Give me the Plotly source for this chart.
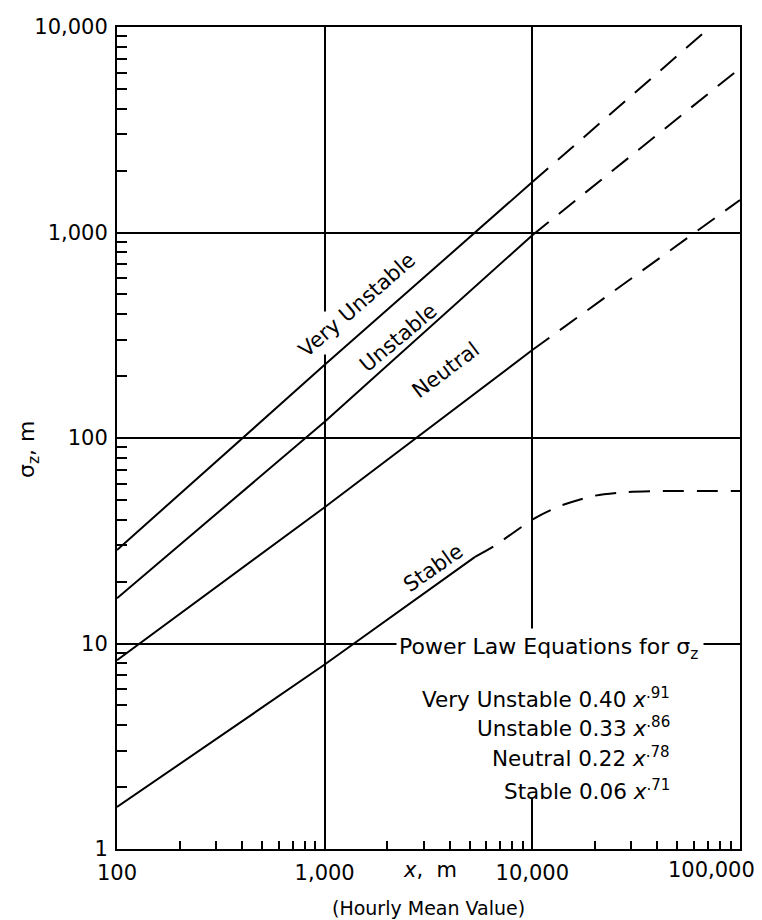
import plotly.graph_objects as go

# ---------------- data ----------------
vu_x_solid = [100, 1000, 10000]
vu_y_solid = [28.5, 227, 1760]
vu_x_dash = [10000, 72000]
vu_y_dash = [1760, 10000]

un_x_solid = [100, 1000, 10000]
un_y_solid = [16.6, 120, 970]
un_x_dash = [10000, 100000]
un_y_dash = [970, 6300]

ne_x_solid = [100, 1000, 10000]
ne_y_solid = [8.3, 46, 268]
ne_x_dash = [10000, 100000]
ne_y_dash = [268, 1440]

st_x_solid = [100, 1000, 5300]
st_y_solid = [1.6, 7.9, 26.4]
st_x_dash = [5300, 6450, 10300, 13600, 19600, 28500, 41100, 100000]
st_y_dash = [26.4, 29.5, 40.8, 46.7, 52.2, 54.6, 55.2, 55.2]

x_tickvals = [100, 1000, 10000, 100000]
x_ticktext = ["100", "1,000", "10,000", "100,000"]
y_tickvals = [1, 10, 100, 1000, 10000]
y_ticktext = ["1", "10", "100", "1,000", "10,000"]

curve_labels = ["Very Unstable", "Unstable", "Neutral", "Stable"]
eq_names = ["Very Unstable", "Unstable", "Neutral", "Stable"]
eq_coefs = ["0.40", "0.33", "0.22", "0.06"]
eq_exps = [".91", ".86", ".78", ".71"]

# ---------------- layout geometry (page pixels) ----------------
W, H = 762, 920
L, R, T, B = 117, 740, 27, 849
FONT = "DejaVu Sans"


def px(xp):
    return (xp - L) / (R - L)


def py(yp):
    return (B - yp) / (B - T)


minor_x = [m * 10 ** e for e in range(2, 5) for m in range(2, 10)]
minor_y = [m * 10 ** e for e in range(0, 4) for m in range(2, 10)]

fig = go.Figure()
solid = dict(color="black", width=2)
dashed = dict(color="black", width=2, dash="21px,13px")
for xs, ys, xd, yd in [
    (vu_x_solid, vu_y_solid, vu_x_dash, vu_y_dash),
    (un_x_solid, un_y_solid, un_x_dash, un_y_dash),
    (ne_x_solid, ne_y_solid, ne_x_dash, ne_y_dash),
    (st_x_solid, st_y_solid, st_x_dash, st_y_dash),
]:
    fig.add_trace(go.Scatter(x=xs, y=ys, mode="lines", line=solid,
                             showlegend=False, hoverinfo="skip"))
    fig.add_trace(go.Scatter(x=xd, y=yd, mode="lines",
                             line=dict(**dashed, shape="spline", smoothing=0.7),
                             showlegend=False, hoverinfo="skip"))

axis_common = dict(
    type="log",
    showgrid=True, gridcolor="black", gridwidth=1.5,
    showline=True, linecolor="black", linewidth=2, mirror=True,
    ticks="", zeroline=False,
    tickfont=dict(family=FONT, size=21, color="black"),
)
# the last x label sits inside the page edge, so it is drawn as an annotation
fig.update_xaxes(
    **axis_common, range=[2, 5],
    tickvals=x_tickvals[:-1], ticktext=x_ticktext[:-1], ticklabelstandoff=4,
    minor=dict(tickvals=minor_x, ticks="inside", ticklen=8,
               tickcolor="black", tickwidth=1.5, showgrid=False),
)
fig.update_yaxes(
    **axis_common, range=[0, 4],
    tickvals=y_tickvals, ticktext=y_ticktext, ticklabelstandoff=3,
    minor=dict(tickvals=minor_y, ticks="inside", ticklen=10,
               tickcolor="black", tickwidth=1.5, showgrid=False),
)


def ann(text, xp, yp, size, **kw):
    d = dict(text=text, x=px(xp), y=py(yp), xref="paper", yref="paper",
             showarrow=False, xanchor="center", yanchor="middle",
             font=dict(family=FONT, size=size, color="black"))
    d.update(kw)
    return d


annotations = [
    # white blanks that open gaps in the grid lines
    ann(" ", 325, 333, 10, width=8, height=42, bgcolor="white", borderpad=0),
    ann(" ", 550, 713, 10, width=306, height=168, bgcolor="white", borderpad=0),
]

lab_pos = [(357, 305, -41), (398, 338, -40), (446, 370, -37), (433, 568, -35)]
for name, (xp, yp, ang) in zip(curve_labels, lab_pos):
    annotations.append(ann(name, xp, yp, 21, textangle=ang))

annotations.append(ann("Power Law Equations for σ<sub>z</sub>", 548, 648, 22))
eq_y = [698, 727, 757, 790]
for n, c, e, yp in zip(eq_names, eq_coefs, eq_exps, eq_y):
    annotations.append(ann(f"{n} {c} <i>x</i><sup>{e}</sup>", 672, yp, 21.5,
                           xanchor="right"))

annotations.append(ann(x_ticktext[-1], 711, 870, 21))
annotations.append(ann("<i>x</i>,  m", 430, 870, 21))
annotations.append(ann("(Hourly Mean Value)", 428, 908, 19))
annotations.append(ann("σ<sub>z</sub>, m", 28, 450, 22, textangle=-90))

fig.update_layout(
    width=W, height=H,
    margin=dict(l=L, r=W - R, t=T, b=H - B, autoexpand=False),
    plot_bgcolor="white", paper_bgcolor="white",
    annotations=annotations,
    font=dict(family=FONT, color="black"),
)

fig.write_html("out.html", config={"displayModeBar": False},
               post_script="document.body.style.margin='0';document.body.style.overflow='hidden';")
